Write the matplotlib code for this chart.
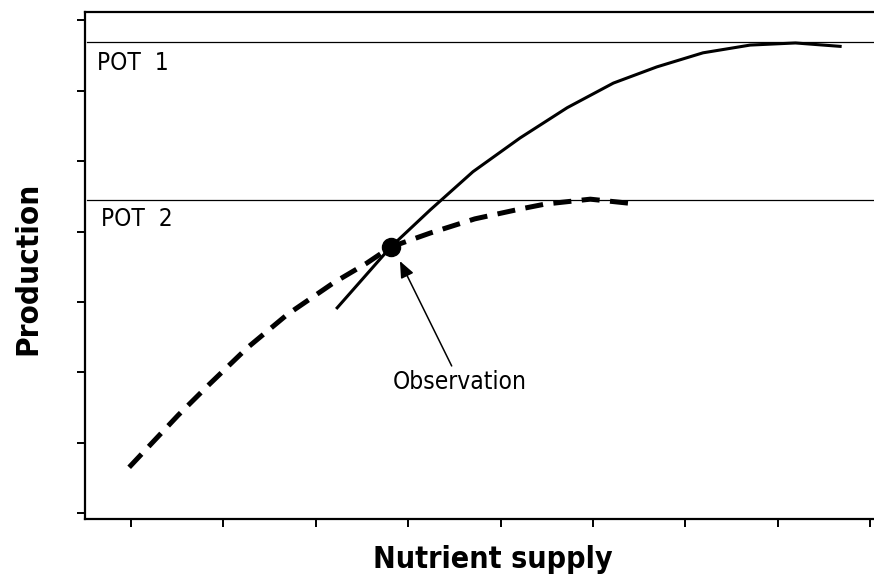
import matplotlib
matplotlib.use("Agg")
import matplotlib.pyplot as plt
from matplotlib import font_manager

# ---- data ----
x_ticks = [0, 1, 2, 3, 4, 5, 6, 7, 8]
y_ticks = [0, 1, 2, 3, 4, 5, 6, 7]

pot1_x = [2.22, 2.81, 3.24, 3.70, 4.21, 4.72, 5.22, 5.69, 6.19, 6.70, 7.19, 7.69]
pot1_y = [2.90, 3.78, 4.31, 4.85, 5.33, 5.76, 6.11, 6.34, 6.54, 6.65, 6.68, 6.63]

pot2_x = [-0.02, 0.51, 0.84, 1.26, 1.69, 2.19, 2.55, 2.81, 3.24, 3.72, 4.21, 4.48, 4.97, 5.48]
pot2_y = [0.65, 1.39, 1.82, 2.35, 2.82, 3.27, 3.55, 3.78, 3.98, 4.18, 4.32, 4.39, 4.46, 4.39]

pot1_level = 6.69
pot2_level = 4.45
obs_x, obs_y = 2.81, 3.78

labels = {"pot1": "POT  1", "pot2": "POT  2", "obs": "Observation",
          "xlabel": "Nutrient supply", "ylabel": "Production"}

# ---- font choice ----
fam = "DejaVu Sans"
stretch = "normal"
try:
    p = font_manager.findfont(font_manager.FontProperties(family="DejaVu Sans", stretch="condensed"),
                              fallback_to_default=False)
    if "Condensed" in p:
        stretch = "condensed"
except Exception:
    pass
plt.rcParams["font.family"] = [fam]
plt.rcParams["lines.scale_dashes"] = False

fig = plt.figure(figsize=(8.74, 5.76), dpi=100)
ax = fig.add_axes([85 / 874, 1 - 519 / 576, 1 - 85 / 874, (519 - 12) / 576])

ax.set_xlim(-0.498, 8.04)
ax.set_ylim(-0.085, 7.12)

# reference lines
ax.axhline(pot1_level, xmin=0.003, xmax=1, color="black", lw=0.9)
ax.axhline(pot2_level, xmin=0.003, xmax=1, color="black", lw=0.9)

# curves
ax.plot(pot1_x, pot1_y, color="black", lw=2.2, solid_capstyle="butt", solid_joinstyle="round")
ax.plot(pot2_x, pot2_y, color="black", lw=3.6, dashes=(13, 7.5), dash_capstyle="butt")

# observation point
ax.plot([obs_x], [obs_y], "o", color="black", markersize=13)

# arrow + text
ax.annotate("", xy=(2.91, 3.58), xytext=(3.47, 2.09),
            arrowprops=dict(arrowstyle="-|>,head_length=1.0,head_width=0.42",
                            color="black", lw=1.1, shrinkA=0, shrinkB=0))
ax.text(3.56, 1.86, labels["obs"], ha="center", va="center", fontsize=17.6,
        fontstretch=stretch)
ax.text(-0.37, 6.40, labels["pot1"], ha="left", va="center", fontsize=17.6, fontstretch=stretch)
ax.text(-0.32, 4.18, labels["pot2"], ha="left", va="center", fontsize=17.6, fontstretch=stretch)

# axes styling
ax.set_xticks(x_ticks)
ax.set_yticks(y_ticks)
ax.set_xticklabels([])
ax.set_yticklabels([])
ax.tick_params(direction="out", length=6, width=1.4, color="black")
for s in ["left", "bottom", "top"]:
    ax.spines[s].set_linewidth(1.6)
ax.spines["right"].set_visible(False)

fig.text(0.5 * (373 + 612) / 874, 1 - 560 / 576, labels["xlabel"], ha="center", va="center",
         fontsize=21.8, fontweight="bold", fontstretch=stretch)
fig.text(28 / 874, 1 - 268 / 576, labels["ylabel"], ha="center", va="center", rotation=90,
         fontsize=22.5, fontweight="bold", fontstretch=stretch)

fig.savefig("out.png", dpi=100)
